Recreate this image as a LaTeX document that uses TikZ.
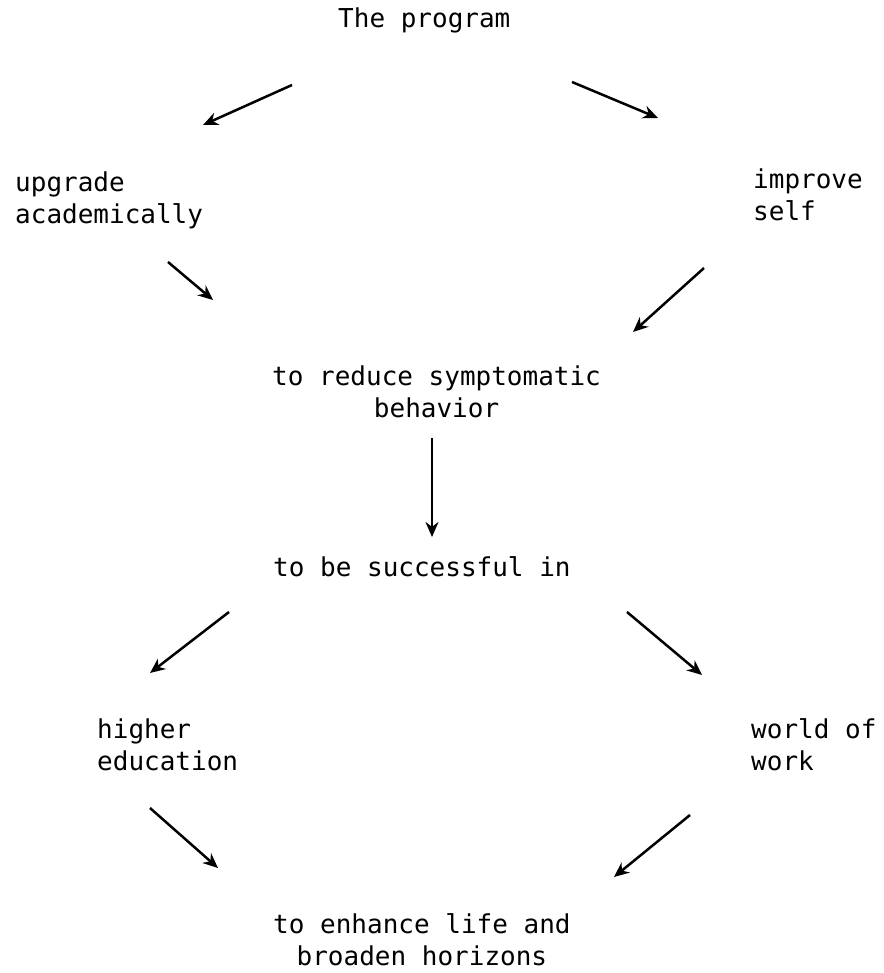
\documentclass[tikz,border=0pt]{standalone}
\usepackage{fontspec}
\setmainfont{DejaVu Sans Mono}
\usetikzlibrary{arrows.meta}
\tikzset{
  txt/.style={anchor=base west, inner sep=0pt, font=\fontsize{26}{32}\selectfont},
  arr/.style={line width=2.5pt, -{Stealth[length=15pt, width=13pt]}}
}
\begin{document}
\begin{tikzpicture}[x=1pt, y=-1pt]
  \useasboundingbox (0,0) rectangle (883,973);
  \node[txt] (prog) at (338,28) {The program};
  \node[txt, align=left] (upg) at (15,224) {upgrade\\academically};
  \node[txt, align=left] (imp) at (753,221) {improve\\self};
  \node[txt, align=center] (red) at (272,417) {to reduce symptomatic\\behavior};
  \node[txt] (succ) at (273,576) {to be successful in};
  \node[txt, align=left] (high) at (97,770) {higher\\education};
  \node[txt, align=left] (work) at (751,770) {world of\\work};
  \node[txt, align=center] (enh) at (273,965) {to enhance life and\\broaden horizons};
  \coordinate (p1) at (292,85);  \coordinate (u1) at (203,125);
  \coordinate (p2) at (572,82);  \coordinate (i2) at (658,118);
  \coordinate (u3) at (168,262); \coordinate (r3) at (213,300);
  \coordinate (i4) at (704,268); \coordinate (r4) at (633,332);
  \coordinate (r5) at (432,438); \coordinate (s5) at (432,537);
  \coordinate (s6) at (229,612); \coordinate (h6) at (150,673);
  \coordinate (s7) at (627,612); \coordinate (w7) at (702,675);
  \coordinate (h8) at (150,808); \coordinate (e8) at (218,868);
  \coordinate (w9) at (690,815); \coordinate (e9) at (614,877);
  \draw[arr] (p1) -- (u1);
  \draw[arr] (p2) -- (i2);
  \draw[arr] (u3) -- (r3);
  \draw[arr] (i4) -- (r4);
  \draw[arr] (r5) -- (s5);
  \draw[arr] (s6) -- (h6);
  \draw[arr] (s7) -- (w7);
  \draw[arr] (h8) -- (e8);
  \draw[arr] (w9) -- (e9);
\end{tikzpicture}
\end{document}
